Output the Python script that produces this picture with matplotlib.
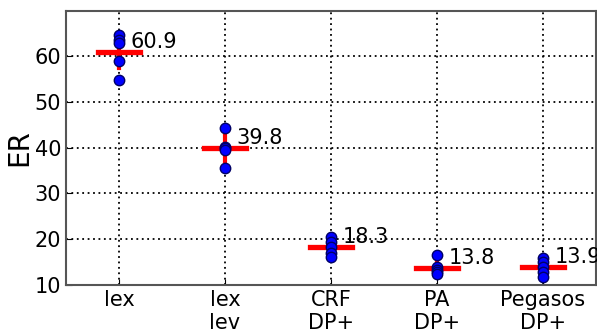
import numpy as np
import matplotlib
matplotlib.use('Agg')
import matplotlib.pyplot as plt

categories = ['lex', 'lex\nlev', 'CRF\nDP+', 'PA\nDP+', 'Pegasos\nDP+']
runs = [
    [64.6, 63.4, 62.8, 58.8, 54.8],
    [44.3, 40.2, 39.9, 39.5, 35.5],
    [20.6, 19.5, 18.3, 17.0, 16.1],
    [16.6, 14.0, 13.2, 12.8, 12.4],
    [16.0, 15.0, 14.0, 12.8, 11.8],
]
means = [60.9, 39.8, 18.3, 13.8, 13.9]


def main():
    fig = plt.figure(figsize=(5.97, 3.3), dpi=100)
    ax = fig.add_axes([0.1106, 0.136, 0.8874, 0.831])

    x = np.arange(1, len(categories) + 1)
    for i, vals in enumerate(runs):
        xi = x[i]
        sd = np.std(vals)
        ax.plot([xi, xi], [means[i] - sd, means[i] + sd], color='red', lw=3, zorder=2)
        ax.plot([xi - 0.2, xi + 0.2], [means[i], means[i]], color='red', lw=3.8, zorder=2)
        ax.plot([xi] * len(vals), vals, 'o', color='blue', markeredgecolor='#000066',
                markersize=7.5, zorder=3)
        ax.text(xi + 0.11, means[i], f'{means[i]:.1f}', fontsize=15, ha='left', va='bottom')

    ax.set_xlim(0.5, 5.5)
    ax.set_ylim(10, 69.8)
    ax.set_yticks([10, 20, 30, 40, 50, 60])
    ax.set_xticks(x)
    ax.set_xticklabels(categories)
    ax.tick_params(labelsize=15, direction='in', length=4)
    ax.set_ylabel('ER', fontsize=20, labelpad=1)
    ax.grid(True, linestyle=(0, (1, 2)), color='black', lw=1.3)
    ax.set_axisbelow(True)
    for sp in ax.spines.values():
        sp.set_color('#555555')
        sp.set_linewidth(1.5)

    fig.savefig('out.png', dpi=100)


if __name__ == '__main__':
    main()
